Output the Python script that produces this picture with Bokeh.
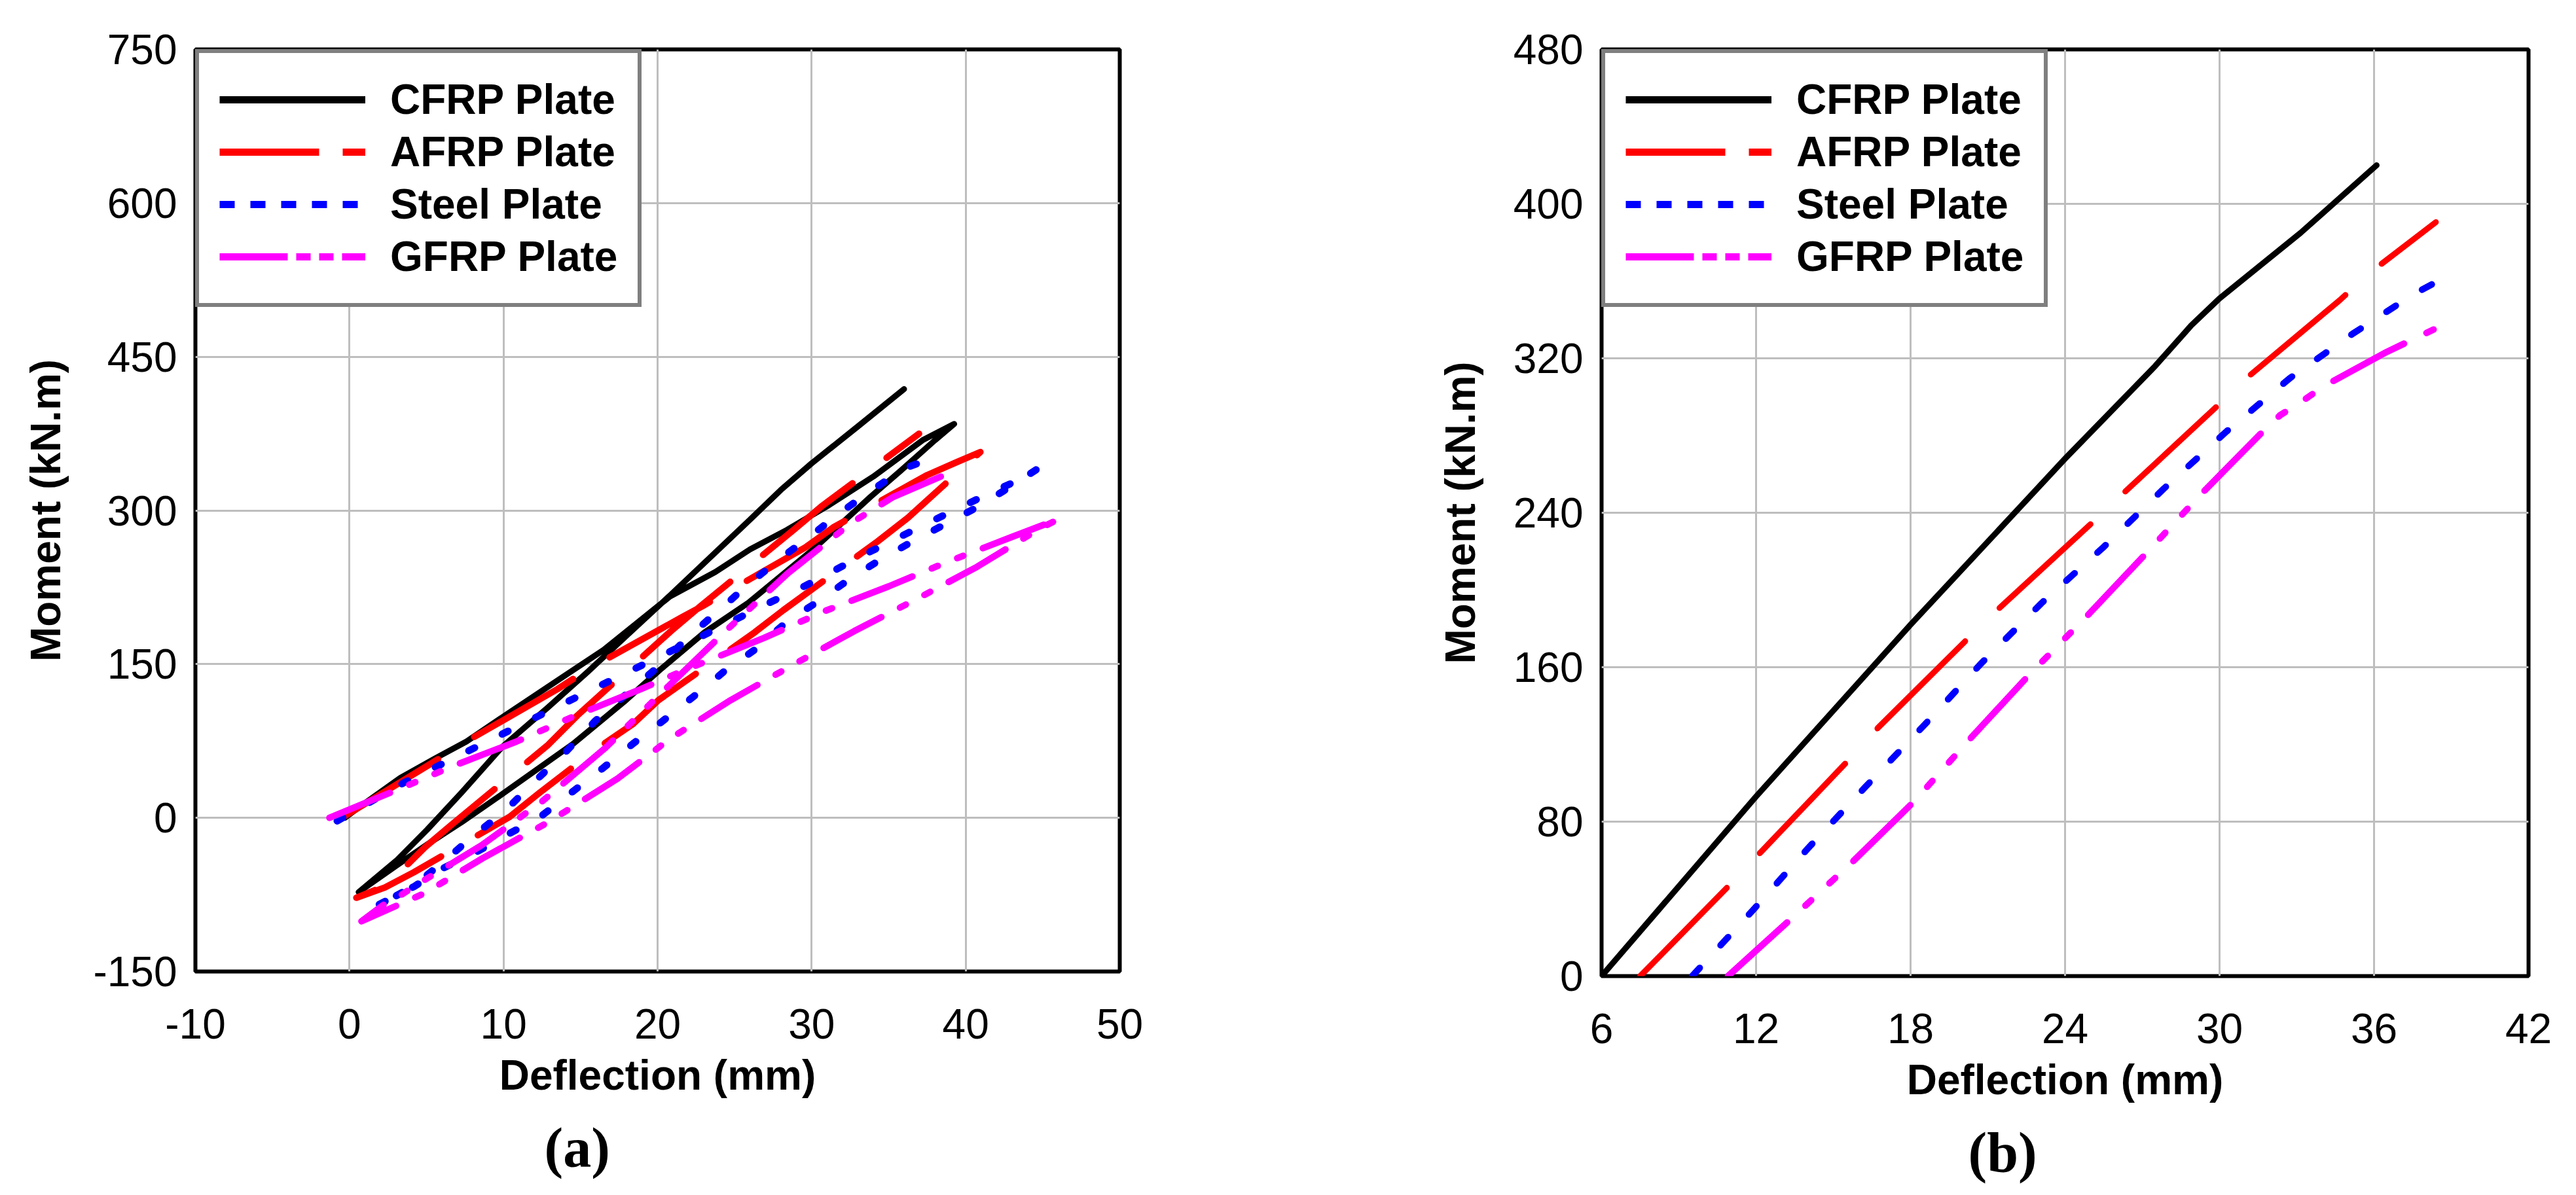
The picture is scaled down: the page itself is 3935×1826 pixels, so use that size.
from bokeh.plotting import figure
from bokeh.models import Range1d, FixedTicker, Legend, LegendItem, Title
from bokeh.layouts import row
from bokeh.embed import file_html
from bokeh.resources import INLINE

# ---------------- Panel (a): cyclic moment-deflection ----------------
cfrp_a_x = [-0.3, 0.5, 3.3, 5.5, 7.6, 10.1, 13.3, 16.5, 20.8, 23.75, 26.0, 28.4, 31.0, 34.0, 37.25, 39.25,
            38.0, 35.8, 33.8, 30.1, 25.9, 23.05, 20.2, 17.8, 14.5, 9.9, 7.3, 5.05, 3.1, 0.6,
            3.1, 5.05, 7.3, 9.9, 12.9, 15.5, 18.0, 20.8, 23.75, 26.0, 28.0, 30.0, 33.0, 36.0]
cfrp_a_y = [0, 9, 39, 57.5, 74.5, 100, 132, 164, 216, 240, 262, 281, 304, 333, 369, 384.5,
            368.5, 339, 313, 262, 210, 181, 145, 113, 72, 23, -4, -26, -46, -72.5,
            -41, -11.5, 25, 69, 108, 143, 178, 217, 259, 291, 320, 346, 382, 418.5]

afrp_a_x = [-0.6, 5.67, 7.45, 13.5, 15.46, 21.6, 22.9, 29.6, 31.4, 37.5, 39.4, 40.95,
            36.26, 34.3, 28.15, 26.3, 20.07, 18.4, 16.1, 12.3, 10.4, 4.2, 2.3, 0.45,
            2.4, 4.9, 6.74, 12.9, 14.8, 20.85, 22.77, 28.9, 30.7, 36.97]
afrp_a_y = [-1, 56.4, 73.4, 125.6, 144.7, 196, 206.5, 264, 283.4, 334.5, 347, 357,
            293, 270, 202.5, 181, 115, 91.5, 68, 24, 1, -53, -68, -78,
            -66, -28.7, -5.3, 71.3, 100, 182, 206.4, 281.9, 304.7, 374.9]

steel_a_x = [-0.8, 3.5, 7.52, 11.5, 15.5, 19.57, 23.5, 27.5, 29.6, 33.56, 37.54, 41.5, 43.5, 44.6,
             42.4, 40.4, 38.4, 36.4, 34.4, 32.4, 30.4, 28.4, 26.3, 24.3, 22.3, 20.35, 18.4, 16.4,
             14.3, 12.4, 10.3, 8.4, 6.1, 4.2, 1.6,
             2.1, 4.1, 5.96, 8.0, 10.07, 12.0, 14.0, 15.96, 20.07, 22.0, 24.04, 25.96, 28.0, 30.0,
             32.0, 34.0, 36.0, 38.1]
steel_a_y = [-3, 34, 63.8, 93.6, 123.4, 153.2, 182, 211.7, 226.6, 258, 287.7, 316.4, 330.2, 340,
             318.5, 300.4, 284.5, 268.5, 251.5, 232.3, 211, 191.5, 164, 142.6, 118, 94.7, 72.3, 47.9,
             23.4, 1.1, -16, -32, -49, -67, -87,
             -84, -67, -44.7, -18.1, 6.4, 35.1, 63.8, 94.7, 147.9, 176.6, 203.2, 228.7, 253.4, 276,
             299.4, 320.6, 341, 352.6]

gfrp_a_x = [-1.3, 2.98, 6.8, 10.85, 14.7, 18.9, 21.5, 26.9, 30.8, 35.0, 38.75, 42.94, 46.0,
            44.8, 40.74, 36.9, 32.77, 28.87, 24.75, 20.85, 17.4, 12.9, 8.65, 4.9, 0.78,
            2.2, 3.33, 4.4, 8.6, 12.5, 16.6, 20.35, 24.47, 28.44, 32.56, 35.3, 39.1]
gfrp_a_y = [0, 26.6, 51, 74.5, 100, 125.5, 142.6, 175.5, 201.5, 225.9, 249.4, 273.8, 291.4,
            282.3, 245, 214.2, 182.3, 150, 114.9, 77.6, 38.3, -4.3, -39.4, -73.4, -101,
            -85, -75.5, -65, -26.6, 16, 68.1, 123.4, 183, 238.5, 287.7, 313.2, 337.7]

# ---------------- Panel (b): monotonic response ----------------
cfrp_b_x = [6.0, 12.0, 18.0, 24.0, 27.5, 28.9, 30.0, 33.15, 36.1]
cfrp_b_y = [0, 93, 182, 268, 316, 337, 351, 385, 420]

afrp_b_x = [7.5, 11.07, 12.19, 15.66, 16.75, 20.3, 21.4, 25.05, 26.2, 29.84, 31.0, 34.66, 35.77, 38.4]
afrp_b_y = [0, 48.5, 64.3, 112.8, 128.8, 175.8, 190, 234.8, 249.3, 294.4, 309.2, 350, 363.6, 390.5]

steel_b_x = [9.52, 11.91, 13.99, 16.24, 18.51, 20.76, 23.08, 25.51, 27.83, 30.26, 32.74, 35.17, 37.49, 38.75]
steel_b_y = [0, 34.6, 65.8, 97.9, 129.7, 162.2, 193.1, 222.4, 252.4, 282, 309.8, 332.7, 352.8, 362]

gfrp_b_x = [10.91, 13.39, 15.78, 18.14, 20.25, 22.56, 24.88, 27.13, 29.28, 31.72, 32.34, 33.34, 34.08, 36.51, 38.95]
gfrp_b_y = [0, 30, 59.6, 90.5, 122, 155.4, 186.9, 218.7, 249.6, 282.6, 290.4, 299, 305.8, 323.4, 339]

# axes
xticks_a = [-10, 0, 10, 20, 30, 40, 50]
yticks_a = [-150, 0, 150, 300, 450, 600, 750]
xticks_b = [6, 12, 18, 24, 30, 36, 42]
yticks_b = [0, 80, 160, 240, 320, 400, 480]

series_names = ["CFRP Plate", "AFRP Plate", "Steel Plate", "GFRP Plate"]
series_colors = ["#000000", "#ff0000", "#0000ff", "#ff00ff"]
legend_dashes = ["solid", "152 36", "23 24", "104 13 22 13 22 13"]

SANS = "Liberation Sans"
SERIF = "Liberation Serif"
FS = "64px"
NAN = float("nan")


def make_fig(xr, yr, xt, yt, fw, fh, bl, br, bt, bb, caption, cap_offset, ylab_standoff):
    p = figure(title=None, x_range=Range1d(*xr), y_range=Range1d(*yr),
               frame_width=fw, frame_height=fh,
               min_border_left=bl, min_border_right=br, min_border_top=bt, min_border_bottom=bb,
               output_backend="svg", toolbar_location=None)
    p.background_fill_color = "white"
    p.border_fill_color = "white"
    p.outline_line_color = "black"
    p.outline_line_width = 6
    p.xaxis.ticker = FixedTicker(ticks=xt)
    p.yaxis.ticker = FixedTicker(ticks=yt)
    p.xaxis.major_label_overrides = {t: str(t) for t in xt}
    p.yaxis.major_label_overrides = {t: str(t) for t in yt}
    for ax in (p.xaxis[0], p.yaxis[0]):
        ax.axis_line_color = None
        ax.major_tick_line_color = None
        ax.minor_tick_line_color = None
        ax.major_tick_out = 0
        ax.major_tick_in = 0
        ax.major_label_text_font = SANS
        ax.major_label_text_font_size = FS
        ax.major_label_text_color = "black"
        ax.axis_label_text_font = SANS
        ax.axis_label_text_font_size = FS
        ax.axis_label_text_font_style = "bold"
        ax.axis_label_text_color = "black"
    p.xaxis.axis_label = "Deflection (mm)"
    p.yaxis.axis_label = "Moment (kN.m)"
    p.xaxis.major_label_standoff = 57
    p.xaxis.axis_label_standoff = 17
    p.yaxis.major_label_standoff = 28
    p.yaxis.axis_label_standoff = ylab_standoff
    p.xgrid.ticker = FixedTicker(ticks=xt)
    p.ygrid.ticker = FixedTicker(ticks=yt)
    for g in (p.xgrid[0], p.ygrid[0]):
        g.grid_line_color = "#bebebe"
        g.grid_line_width = 3
    cap = Title(text=caption, align="left", offset=cap_offset, text_font=SERIF,
                text_font_size="86px", text_font_style="bold", text_color="black", standoff=45)
    p.add_layout(cap, "below")
    return p


def add_series(p, data, widths, dashes):
    items = []
    for (xs, ys), name, color, lw, dash, ldash in zip(data, series_names, series_colors, widths, dashes, legend_dashes):
        p.line(xs, ys, line_color=color, line_width=lw, line_dash=dash,
               line_cap="round", line_join="round")
        # legend proxy: no visible data, only carries the legend line style
        proxy = p.line(x=[NAN], y=[NAN], line_color=color, line_width=11, line_dash=ldash, line_cap="butt")
        items.append(LegendItem(label=name, renderers=[proxy]))
    leg = Legend(items=items, location="top_left", margin=0, padding=31, spacing=0,
                 glyph_width=223, glyph_height=80, label_height=80, label_standoff=38,
                 label_text_font=SANS, label_text_font_size=FS, label_text_font_style="bold",
                 label_text_color="black", border_line_color="black", border_line_width=6,
                 background_fill_color="white", background_fill_alpha=1.0)
    p.add_layout(leg)


pa = make_fig((-10, 50), (-150, 750), xticks_a, yticks_a, 1412, 1409, 298, 242, 75, 320, "(a)", 533, 33)
add_series(pa, [(cfrp_a_x, cfrp_a_y), (afrp_a_x, afrp_a_y), (steel_a_x, steel_a_y), (gfrp_a_x, gfrp_a_y)],
           [9, 10, 11, 10], ["solid", "175 65", "10 47", "100 32 10 32 10 32"])

pb = make_fig((6, 42), (0, 480), xticks_b, yticks_b, 1416, 1416, 494, 53, 61, 327, "(b)", 560, 42)
add_series(pb, [(cfrp_b_x, cfrp_b_y), (afrp_b_x, afrp_b_y), (steel_b_x, steel_b_y), (gfrp_b_x, gfrp_b_y)],
           [9, 9, 10, 10], ["solid", "189 73", "17 47", "122 38 12 38 12 38"])

layout = row(pa, pb)
open("out.html", "w").write(file_html(layout, INLINE))
